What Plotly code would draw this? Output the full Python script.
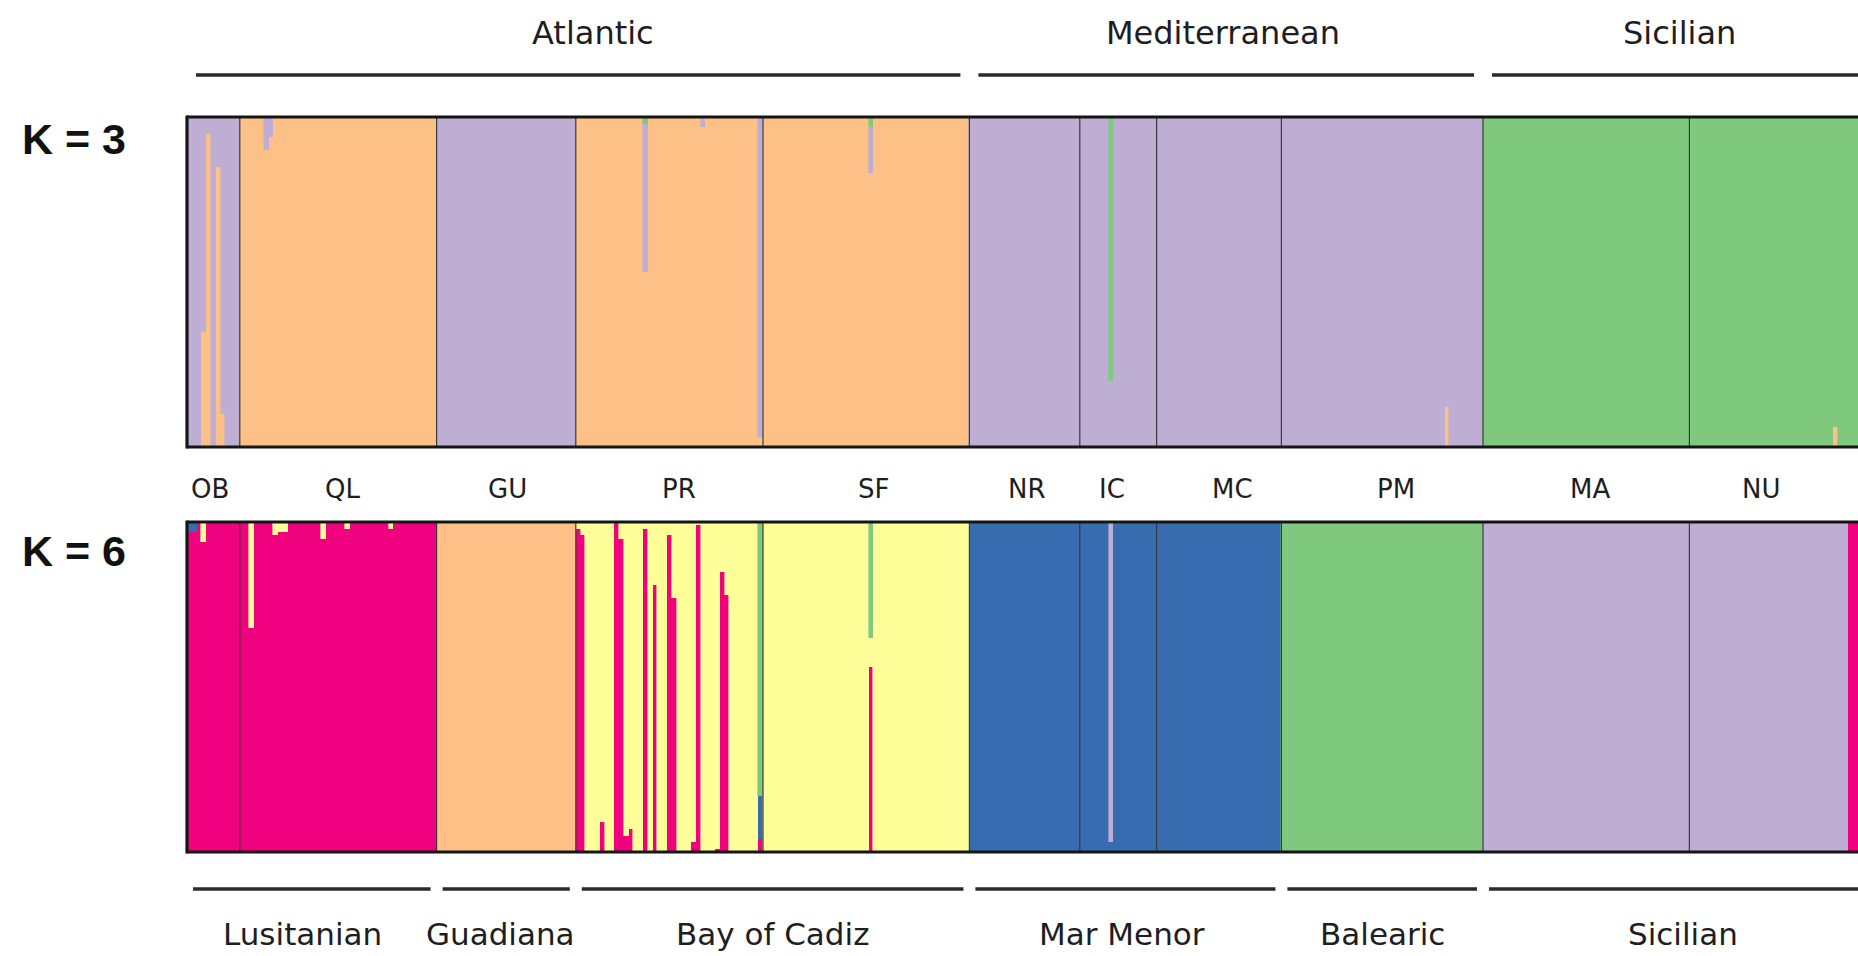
import plotly.graph_objects as go

# ---------------- data ----------------
pops = ["OB", "QL", "GU", "PR", "SF", "NR", "IC", "MC", "PM", "MA", "NU"]
n_ind = [11, 41, 29, 39, 43, 23, 16, 26, 42, 43, 42]

top_groups = [("Atlantic", "OB", "SF"), ("Mediterranean", "NR", "PM"), ("Sicilian", "MA", "NU")]
bottom_groups = [("Lusitanian", "OB", "QL"), ("Guadiana", "GU", "GU"), ("Bay of Cadiz", "PR", "SF"),
                 ("Mar Menor", "NR", "MC"), ("Balearic", "PM", "PM"), ("Sicilian", "MA", "NU")]

# clusters, stacked bottom -> top
k3_colors = ["#FDC086", "#BEAED4", "#7FC97F"]
k6_colors = ["#F0027F", "#386CB0", "#FDC086", "#FFFF99", "#7FC97F", "#BEAED4"]

# dominant cluster of each population
k3_major = [1, 0, 1, 0, 0, 1, 1, 1, 1, 2, 2]
k6_major = [0, 0, 2, 3, 3, 1, 1, 1, 4, 5, 5]

# admixed individuals: (population, individual, {cluster: q}); the rest is the dominant cluster
k3_admix = [
    ("OB", 3, {0: 0.35}), ("OB", 4, {0: 0.95}), ("OB", 6, {0: 0.85}), ("OB", 7, {0: 0.10}),
    ("QL", 5, {1: 0.10}), ("QL", 6, {1: 0.06}),
    ("PR", 14, {1: 0.45, 2: 0.02}), ("PR", 26, {1: 0.03}), ("PR", 38, {1: 0.97}),
    ("SF", 22, {1: 0.14, 2: 0.03}),
    ("IC", 6, {2: 0.80}),
    ("PM", 34, {0: 0.12}),
    ("NU", 30, {0: 0.06}),
]
k6_admix = [
    ("OB", 0, {1: 0.03}), ("OB", 1, {1: 0.03}), ("OB", 3, {3: 0.06}),
    ("QL", 2, {3: 0.32}), ("QL", 7, {3: 0.04}), ("QL", 8, {3: 0.03}), ("QL", 9, {3: 0.03}),
    ("QL", 17, {3: 0.05}), ("QL", 22, {3: 0.02}), ("QL", 31, {3: 0.02}),
    ("PR", 0, {0: 0.98}), ("PR", 1, {0: 0.96}), ("PR", 5, {0: 0.09}), ("PR", 8, {0: 1.00}),
    ("PR", 9, {0: 0.95}), ("PR", 10, {0: 0.05}), ("PR", 11, {0: 0.07}), ("PR", 14, {0: 0.98}),
    ("PR", 16, {0: 0.81}), ("PR", 19, {0: 0.96}), ("PR", 20, {0: 0.77}), ("PR", 24, {0: 0.03}),
    ("PR", 25, {0: 0.99}), ("PR", 29, {0: 0.01}), ("PR", 30, {0: 0.85}), ("PR", 31, {0: 0.78}),
    ("PR", 38, {0: 0.04, 1: 0.13, 4: 0.83}),
    ("SF", 22, {0: 0.56, 4: 0.35}),
    ("IC", 6, {5: 0.97}),
    ("NU", 33, {0: 1.00}), ("NU", 34, {0: 1.00}), ("NU", 35, {0: 1.00}),
]

# ---------------- layout constants (pixels) ----------------
W, H = 1858, 956
PLOT_LEFT = 187         # x of the left frame edge
IND_PX = 4.8            # width of one individual in pixels
panels = {"K3": (117, 447), "K6": (522, 852)}


def px_x(x):
    return x / W


def px_y(y):
    return (H - y) / H


def build_q(major, admix, k):
    q = []
    for p, n in zip(pops, n_ind):
        m = major[pops.index(p)]
        for i in range(n):
            row = [0.0] * k
            row[m] = 1.0
            q.append(row)
    starts_ = [sum(n_ind[:j]) for j in range(len(pops))]
    for p, i, d in admix:
        idx = starts_[pops.index(p)] + i
        m = major[pops.index(p)]
        row = [0.0] * k
        for c, v in d.items():
            row[c] = v
        row[m] += 1.0 - sum(d.values())
        q[idx] = row
    return q


q3 = build_q(k3_major, k3_admix, 3)
q6 = build_q(k6_major, k6_admix, 6)
n_total = sum(n_ind)
xs = [i + 0.5 for i in range(n_total)]
starts = [sum(n_ind[:j]) for j in range(len(pops))]
ends = [s + n for s, n in zip(starts, n_ind)]

fig = go.Figure()
for q, colors, xa, ya in [(q3, k3_colors, "x", "y"), (q6, k6_colors, "x2", "y2")]:
    for c, col in enumerate(colors):
        fig.add_trace(go.Bar(
            x=xs, y=[row[c] for row in q], width=1.0,
            marker=dict(color=col, line=dict(color=col, width=0.6)),
            xaxis=xa, yaxis=ya, showlegend=False, hoverinfo="skip"))

x_end = (W - PLOT_LEFT) / IND_PX

axis_common = dict(showgrid=False, zeroline=False, showticklabels=False, ticks="", showline=False)
fig.update_layout(
    width=W, height=H, margin=dict(l=0, r=0, t=0, b=0),
    paper_bgcolor="white", plot_bgcolor="white",
    barmode="stack", bargap=0,
    xaxis=dict(domain=[px_x(PLOT_LEFT), 1], range=[0, x_end], anchor="y", **axis_common),
    xaxis2=dict(domain=[px_x(PLOT_LEFT), 1], range=[0, x_end], anchor="y2", **axis_common),
    yaxis=dict(domain=[px_y(panels["K3"][1]), px_y(panels["K3"][0])], range=[0, 1], anchor="x", **axis_common),
    yaxis2=dict(domain=[px_y(panels["K6"][1]), px_y(panels["K6"][0])], range=[0, 1], anchor="x2", **axis_common),
)

shapes = []
# population separators
for xa, ya in [("x", "y"), ("x2", "y2")]:
    for b in ends[:-1]:
        shapes.append(dict(type="line", xref=xa, yref=ya, x0=b, x1=b, y0=0, y1=1,
                           line=dict(color="#3a3a3a", width=1.2)))
# panel frames (left, top, bottom; right side runs off the page)
for top, bot in panels.values():
    yt, yb = px_y(top), px_y(bot)
    x0 = px_x(PLOT_LEFT)
    fr = dict(color="#151515", width=3.2)
    shapes.append(dict(type="line", xref="paper", yref="paper", x0=x0, x1=1.01, y0=yt, y1=yt, line=fr))
    shapes.append(dict(type="line", xref="paper", yref="paper", x0=x0, x1=1.01, y0=yb, y1=yb, line=fr))
    shapes.append(dict(type="line", xref="paper", yref="paper", x0=x0, x1=x0,
                       y0=yb - 1.6 / H, y1=yt + 1.6 / H, line=fr))

annotations = []
font_top = dict(family="DejaVu Sans", size=32, color="#1e1e1e")
font_bot = dict(family="DejaVu Sans", size=31, color="#1e1e1e")
font_pop = dict(family="DejaVu Sans", size=26, color="#1e1e1e")
font_k = dict(family="Liberation Sans", size=43, color="#111111", weight="bold")

top_inset, bot_inset = 9 / IND_PX, 6 / IND_PX
top_label_dx = [15, -3, -8]
bot_label_dx = [-9, -6, 0, -3, 0, -4]
for (lab, a, b), dx in zip(top_groups, top_label_dx):
    x0 = starts[pops.index(a)] + top_inset
    x1 = ends[pops.index(b)] - top_inset
    shapes.append(dict(type="line", xref="x", yref="paper", x0=x0, x1=x1, y0=px_y(75), y1=px_y(75),
                       line=dict(color="#2a2a2a", width=3.5)))
    annotations.append(dict(text=lab, x=(x0 + x1) / 2 + dx / IND_PX, xref="x", y=px_y(33), yref="paper",
                            showarrow=False, font=font_top, xanchor="center", yanchor="middle"))
for (lab, a, b), dx in zip(bottom_groups, bot_label_dx):
    x0 = starts[pops.index(a)] + bot_inset
    x1 = ends[pops.index(b)] - bot_inset
    shapes.append(dict(type="line", xref="x2", yref="paper", x0=x0, x1=x1, y0=px_y(889), y1=px_y(889),
                       line=dict(color="#2a2a2a", width=3.5)))
    annotations.append(dict(text=lab, x=(x0 + x1) / 2 + dx / IND_PX, xref="x2", y=px_y(934), yref="paper",
                            showarrow=False, font=font_bot, xanchor="center", yanchor="middle"))

pop_label_dx = [-3, 4, 1, 10, 7, 2, -6, 13, 14, 4, -29]
for p, s, e, dx in zip(pops, starts, ends, pop_label_dx):
    annotations.append(dict(text=p, x=(s + e) / 2 + dx / IND_PX, xref="x", y=px_y(489), yref="paper",
                            showarrow=False, font=font_pop, xanchor="center", yanchor="middle"))

for lab, yc in [("K = 3", 139), ("K = 6", 551)]:
    annotations.append(dict(text=lab, x=px_x(20), xref="paper", y=px_y(yc), yref="paper",
                            showarrow=False, font=font_k, xanchor="left", yanchor="middle"))

fig.update_layout(shapes=shapes, annotations=annotations)
fig.write_html("out.html", config={"displayModeBar": False},
               post_script="document.body.style.margin='0';document.body.style.overflow='hidden';")
